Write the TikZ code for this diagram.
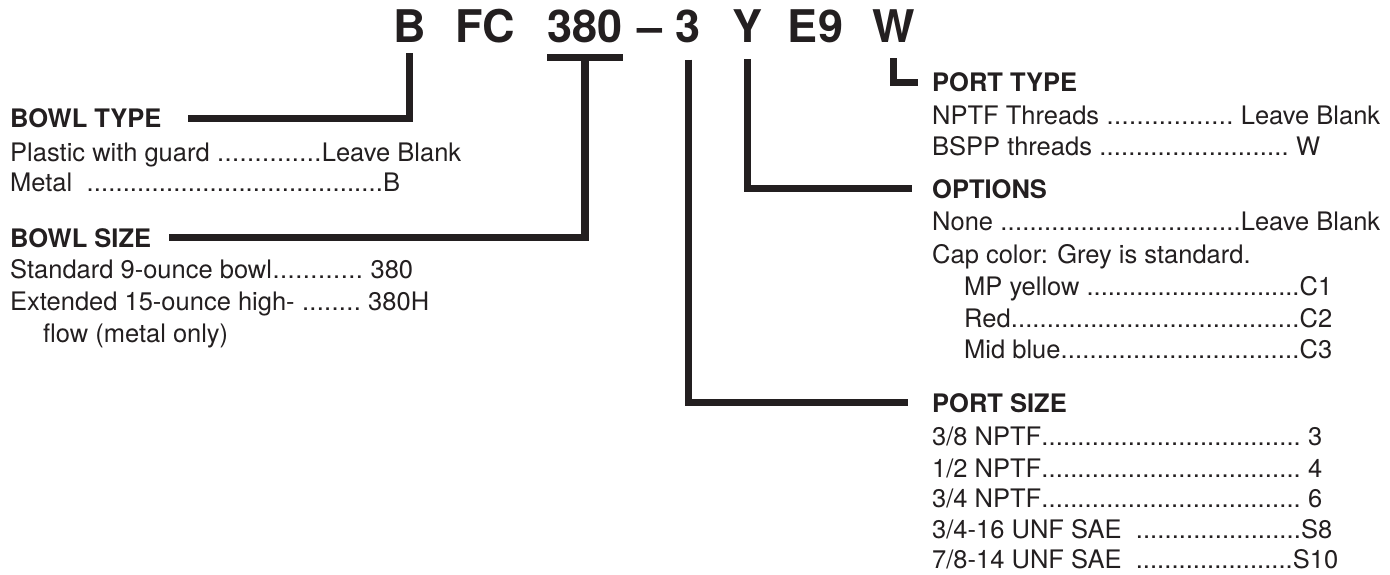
\documentclass[tikz,border=0pt]{standalone}
\usepackage{fontspec}
\setmainfont{TeX Gyre Heros}
\usetikzlibrary{calc}
\definecolor{ink}{HTML}{231F20}
\newcommand\orderline[3]{\hbox to #1pt{#2\xleaders\hbox{.}\hfill#3}}

\begin{document}
\begin{tikzpicture}[
  x=1pt, y=-1pt,
  every node/.style={text=ink},
  code/.style={anchor=base, inner sep=0pt, font=\fontsize{45}{50}\selectfont\bfseries},
  head/.style={anchor=base west, inner sep=0pt, font=\fontsize{25.5}{30}\selectfont\bfseries},
  item/.style={anchor=base west, inner sep=0pt, font=\fontsize{25.5}{30}\selectfont},
  lead/.style={draw=ink, line width=7.5pt}
]
  \useasboundingbox (0,0) rectangle (1390,575);

  % model code
  \node[code] (cB)   at (409.5,43) {B};
  \node[code] (cFC)  at (485,43)   {FC};
  \node[code] (c380) at (585,43)   {380};
  \node[code] (cdash) at (650,43)  {–};
  \node[code] (c3)   at (688.5,43) {3};
  \node[code] (cY)   at (747.5,43) {Y};
  \node[code] (cE9)  at (815.5,43) {E9};
  \node[code] (cW)   at (893.5,43) {W};

  % left column
  \node[head] (btype) at (10,128) {BOWL TYPE};
  \node[item] (plastic) at (10,161) {\orderline{451}{Plastic with guard }{Leave Blank}};
  \node[item] (metal) at (10,192) {\orderline{390}{Metal\ \ }{B}};

  \node[head] (bsize) at (10,247) {BOWL SIZE};
  \node[item] (std) at (10,278) {\orderline{403}{Standard 9-ounce bowl}{\ 380}};
  \node[item] (ext) at (10,310) {\orderline{419}{Extended 15-ounce high- }{\ 380H}};
  \node[item] (flow) at (43,342) {flow (metal only)};

  % right column
  \node[head] (ptype) at (932,92) {PORT TYPE};
  \node[item] (nptf) at (932,125) {\orderline{448}{NPTF Threads }{\ Leave Blank}};
  \node[item] (bspp) at (932,156) {\orderline{388}{BSPP threads }{\ W}};

  \node[head] (opts) at (932,198) {OPTIONS};
  \node[item] (none) at (932,230) {\orderline{448}{None }{Leave Blank}};
  \node[item] (cap) at (932,263) {Cap color: Grey is standard.};
  \node[item] (yel) at (964,295) {\orderline{368}{MP yellow }{C1}};
  \node[item] (red) at (964,327) {\orderline{368}{Red}{C2}};
  \node[item] (blue) at (964,358) {\orderline{368}{Mid blue}{C3}};

  \node[head] (psize) at (932,412) {PORT SIZE};
  \node[item] (p38) at (932,445) {\orderline{390}{3/8 NPTF}{\ 3}};
  \node[item] (p12) at (932,477) {\orderline{390}{1/2 NPTF}{\ 4}};
  \node[item] (p34) at (932,507) {\orderline{390}{3/4 NPTF}{\ 6}};
  \node[item] (s8) at (932,538) {\orderline{400}{3/4-16 UNF SAE\ \ }{S8}};
  \node[item] (s10) at (932,568) {\orderline{406}{7/8-14 UNF SAE\ \ }{S10}};

  % connectors
  \draw[lead] ([yshift=-10pt]cB.south) |- ([xshift=26pt]btype.east);
  \draw[lead] ([yshift=-14pt]c380.south west) -- ([yshift=-14pt]c380.south east);
  \draw[lead] ([yshift=-14pt]c380.south) |- ([xshift=18pt]bsize.east);
  \draw[lead] ([yshift=-16pt]c3.south) |- ([xshift=-24pt]psize.west);
  \draw[lead] ([yshift=-16pt]cY.south) |- ([xshift=-20pt]opts.west);
  \draw[lead] ([yshift=-15pt]cW.south) |- ([xshift=-14pt]ptype.west);
\end{tikzpicture}
\end{document}
